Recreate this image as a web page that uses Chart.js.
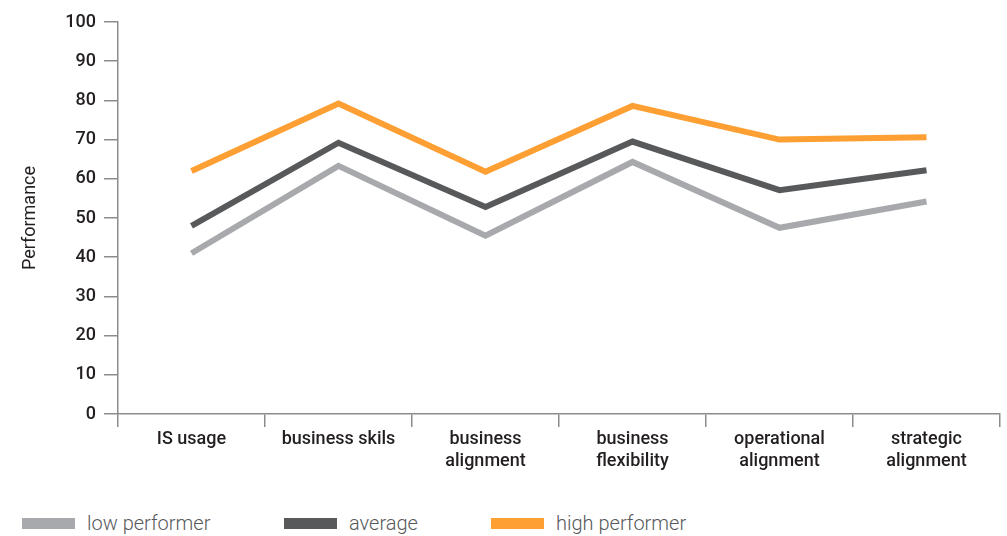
<!DOCTYPE html>
<html>
<head>
<meta charset="utf-8">
<script src="https://cdn.jsdelivr.net/npm/chart.js@4"></script>
<style>
  body { margin: 0; background: #fff; }
  #wrap { position: relative; width: 1007px; height: 536px; }
  #box { position: absolute; left: 0; top: 0; width: 1007px; height: 492px; }
  #legend { position: absolute; left: 0; top: 511px; width: 1007px; height: 26px; }
  .item { position: absolute; top: 0; font: 300 20px Roboto, sans-serif; color: #58595b; white-space: nowrap; }
  .item span.sw { display: inline-block; width: 53px; height: 11px; margin-right: 12px; vertical-align: 1px; }
</style>
</head>
<body>
<div id="wrap">
  <div id="box"><canvas id="line-chart"></canvas></div>
  <div id="legend"></div>
</div>
<script>
var categories = ['IS usage', 'business skils', ['business', 'alignment'], ['business', 'flexibility'], ['operational', 'alignment'], ['strategic', 'alignment']];
var seriesNames = ['low performer', 'average', 'high performer'];
var lowPerformer = [41, 63.3, 45.5, 64.3, 47.5, 54.2];
var average = [48, 69.2, 52.8, 69.5, 57.1, 62.2];
var highPerformer = [62, 79.2, 61.8, 78.6, 70, 70.6];
var yTicks = [0, 10, 20, 30, 40, 50, 60, 70, 80, 90, 100];
var colors = ['#a7a9ac', '#58595b', '#fd9f33'];
var legendX = [22, 284, 491];

var axisColor = '#8c8c8c';
var tickFont = { family: 'Roboto', size: 18, weight: '500', lineHeight: 1.22 };

function lineSet(label, data, color) {
  return {
    label: label,
    data: data,
    borderColor: color,
    backgroundColor: color,
    borderWidth: 6,
    pointRadius: 0,
    tension: 0,
    fill: false,
    borderJoinStyle: 'miter',
    borderCapStyle: 'butt'
  };
}

var chart = new Chart(document.getElementById('line-chart'), {
  type: 'line',
  data: {
    labels: categories,
    datasets: [
      lineSet(seriesNames[0], lowPerformer, colors[0]),
      lineSet(seriesNames[1], average, colors[1]),
      lineSet(seriesNames[2], highPerformer, colors[2])
    ]
  },
  options: {
    responsive: true,
    maintainAspectRatio: false,
    animation: false,
    layout: { padding: { top: 22, right: 7, left: 0, bottom: 0 } },
    plugins: {
      legend: { display: false },
      tooltip: { enabled: false }
    },
    scales: {
      x: {
        offset: true,
        grid: { offset: true, drawOnChartArea: false, drawTicks: true, tickLength: 13, color: axisColor, lineWidth: 1.5 },
        border: { color: axisColor, width: 1.5 },
        ticks: { color: '#231f20', font: tickFont, padding: 2, maxRotation: 0, autoSkip: false },
        afterFit: function(scale) { scale.height = 78; }
      },
      y: {
        min: 0,
        max: 100,
        afterBuildTicks: function(scale) { scale.ticks = yTicks.map(function(v) { return { value: v }; }); },
        grid: { drawOnChartArea: false, drawTicks: true, tickLength: 14, color: axisColor, lineWidth: 1.5 },
        border: { color: axisColor, width: 1.5 },
        ticks: { color: '#231f20', font: tickFont, padding: 8 },
        title: { display: true, text: 'Performance', color: '#231f20', font: { family: 'Roboto', size: 18, weight: '400' }, padding: { top: 20, bottom: 0 } },
        afterFit: function(scale) { scale.width = 118; }
      }
    }
  }
});

var legend = document.getElementById('legend');
chart.data.datasets.forEach(function(ds, i) {
  var item = document.createElement('div');
  item.className = 'item';
  item.style.left = legendX[i] + 'px';
  item.innerHTML = '<span class="sw" style="background:' + ds.borderColor + '"></span>' + ds.label;
  legend.appendChild(item);
});
</script>
</body>
</html>
